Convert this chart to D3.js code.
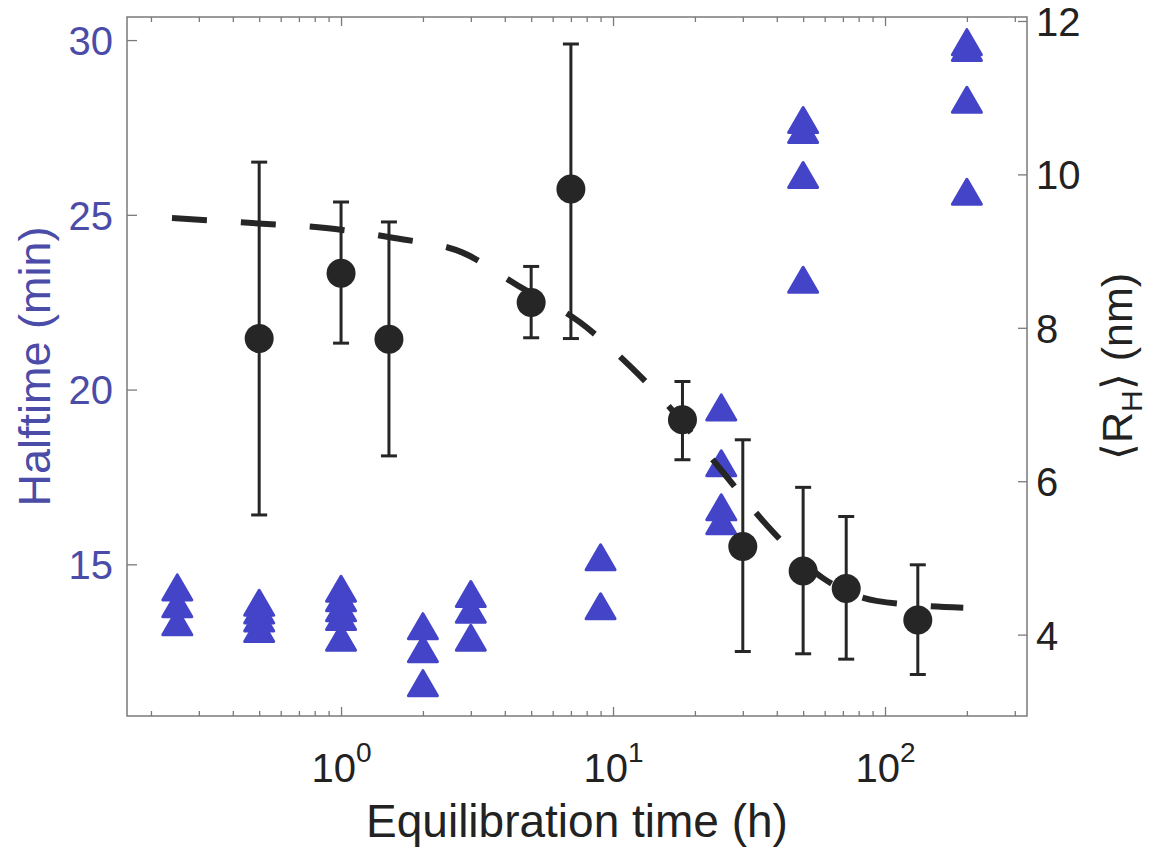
<!DOCTYPE html>
<html><head><meta charset="utf-8">
<script src="https://cdn.jsdelivr.net/npm/d3@7"></script>
<style>body{margin:0;background:#fff} text{font-family:"Liberation Sans",Arial,Helvetica,sans-serif}</style>
</head><body>
<svg id="c" width="1164" height="850"></svg>
<script>
// ---- data ----
const halftimeTimes  = [0.25,0.25,0.25, 0.5,0.5,0.5,0.5, 1,1,1,1,1, 2,2,2, 3,3,3, 9,9, 25,25,25,25, 50,50,50,50, 200,200,200,200];
const halftimeValues = [14.34,13.86,13.34, 13.9,13.68,13.45,13.15, 14.3,14.03,13.74,13.49,12.9, 13.23,12.57,11.6, 14.15,13.7,12.9, 15.2,13.8, 19.49,17.89,16.63,16.23, 27.71,27.43,26.14,23.14, 29.94,29.77,28.29,25.66];

const rhTimes = [0.5, 1, 1.5, 5, 7, 18, 30, 50, 72, 132];
const rhMean  = [7.86, 8.71, 7.85, 8.33, 9.81, 6.80, 5.15, 4.83, 4.60, 4.19];
const rhLower = [5.56, 7.80, 6.33, 7.87, 7.86, 6.28, 3.78, 3.75, 3.68, 3.48];
const rhUpper = [10.16, 9.64, 9.38, 8.80, 11.70, 7.30, 6.54, 5.92, 5.54, 4.91];

const fitTimes  = [0.239, 0.496, 0.88, 1.57, 2.8, 4.47, 7.57, 11.7, 15.9, 25.2, 36.7, 59.5, 93, 194];
const fitValues = [9.43, 9.36, 9.30, 9.17, 8.98, 8.55, 8.07, 7.48, 6.99, 6.13, 5.43, 4.73, 4.44, 4.35];

const leftTicks = [15, 20, 25, 30];
const rightTicks = [4, 6, 8, 10, 12];
const xMajorTicks = [1, 10, 100];
const xMajorLabels = ["0", "1", "2"];
const xMinorTicks = [0.2,0.3,0.4,0.5,0.6,0.7,0.8,0.9, 2,3,4,5,6,7,8,9, 20,30,40,50,60,70,80,90, 200,300];

// ---- layout ----
const W = 1164, H = 850;
const m = {l:127, r:1027, t:17, b:716};
const blue = "#4444c9", blueText = "#4b4ba8", dark = "#262626", axisGray = "#7a7a7a";

const svg = d3.select("#c");
const x = d3.scaleLog().domain([0.1633, 332.7]).range([m.l, m.r]);
const yL = d3.scaleLinear().domain([10.66, 30.66]).range([m.b, m.t]);
const yR = d3.scaleLinear().domain([2.939, 12.052]).range([m.b, m.t]);

// triangles (left axis)
const triHalfW = 14.5, triH = 25;
const tri = `M0,${-triH/2}L${triHalfW},${triH/2}L${-triHalfW},${triH/2}Z`;
svg.append("g").selectAll("path").data(halftimeTimes.map((t,i)=>[t, halftimeValues[i]]))
  .join("path").attr("d", tri)
  .attr("transform", d => `translate(${x(d[0])},${yL(d[1])})`)
  .attr("fill", blue).attr("stroke", blue).attr("stroke-width", 3).attr("stroke-linejoin", "round");

// error bars (right axis)
const eb = svg.append("g").attr("stroke", dark).attr("stroke-width", 3).attr("fill", "none");
rhTimes.forEach((t,i) => {
  const cx = x(t);
  eb.append("line").attr("x1", cx).attr("x2", cx).attr("y1", yR(rhLower[i])).attr("y2", yR(rhUpper[i]));
  eb.append("line").attr("x1", cx-8).attr("x2", cx+8).attr("y1", yR(rhLower[i])).attr("y2", yR(rhLower[i]));
  eb.append("line").attr("x1", cx-8).attr("x2", cx+8).attr("y1", yR(rhUpper[i])).attr("y2", yR(rhUpper[i]));
});
svg.append("g").selectAll("circle").data(rhTimes.map((t,i)=>[t, rhMean[i]]))
  .join("circle").attr("cx", d=>x(d[0])).attr("cy", d=>yR(d[1])).attr("r", 14.5).attr("fill", dark);

// dashed fit line
const line = d3.line().x(d=>x(d[0])).y(d=>yR(d[1])).curve(d3.curveMonotoneX);
svg.append("path").datum(fitTimes.map((t,i)=>[t, fitValues[i]]))
  .attr("d", line).attr("fill","none").attr("stroke", dark).attr("stroke-width", 6)
  .attr("stroke-dasharray", "35,34");

// box
svg.append("rect").attr("x", m.l).attr("y", m.t).attr("width", m.r-m.l).attr("height", m.b-m.t)
  .attr("fill","none").attr("stroke", axisGray).attr("stroke-width", 1.5);

function styleAxis(g){
  g.select(".domain").remove();
  g.selectAll(".tick line").attr("stroke", axisGray).attr("stroke-width", 1.3);
}
// x ticks bottom and top
svg.append("g").attr("transform", `translate(0,${m.b})`)
  .call(d3.axisBottom(x).tickValues(xMinorTicks).tickSizeInner(-5).tickSizeOuter(0).tickFormat(""))
  .call(styleAxis);
svg.append("g").attr("transform", `translate(0,${m.t})`)
  .call(d3.axisTop(x).tickValues(xMinorTicks).tickSizeInner(-5).tickSizeOuter(0).tickFormat(""))
  .call(styleAxis);
svg.append("g").attr("transform", `translate(0,${m.t})`)
  .call(d3.axisTop(x).tickValues(xMajorTicks).tickSizeInner(-9).tickSizeOuter(0).tickFormat(""))
  .call(styleAxis);
const xb = svg.append("g").attr("transform", `translate(0,${m.b})`)
  .call(d3.axisBottom(x).tickValues(xMajorTicks).tickSizeInner(-9).tickSizeOuter(0).tickPadding(0).tickFormat(""))
  .call(styleAxis);
xb.selectAll(".tick").each(function(d,i){
  const t = d3.select(this).append("text").attr("y", 66).attr("text-anchor","middle")
    .attr("fill", "#222").attr("font-size", 40);
  t.append("tspan").text("10");
  t.append("tspan").attr("font-size", 28).attr("dy", -20).text(xMajorLabels[i]);
});
svg.selectAll("g.tick text").filter(function(){return this.textContent==="";}).remove();

// left axis
svg.append("g").attr("transform", `translate(${m.l},0)`)
  .call(d3.axisLeft(yL).tickValues(leftTicks).tickSizeInner(-10).tickSizeOuter(0).tickPadding(14))
  .call(styleAxis)
  .call(g => g.selectAll("text").attr("fill", blueText).attr("font-size", 40)
    .attr("font-family", '"Liberation Sans",Arial,sans-serif').attr("dy","0.36em"));
// right axis
svg.append("g").attr("transform", `translate(${m.r},0)`)
  .call(d3.axisRight(yR).tickValues(rightTicks).tickSizeInner(-9).tickSizeOuter(0).tickPadding(9))
  .call(styleAxis)
  .call(g => g.selectAll("text").attr("fill", "#222").attr("font-size", 40)
    .attr("font-family", '"Liberation Sans",Arial,sans-serif').attr("dy","0.36em"));

// titles
svg.append("text").attr("x", (m.l+m.r)/2).attr("y", 837).attr("text-anchor","middle")
  .attr("font-size", 46).attr("fill", "#222").text("Equilibration time (h)");
svg.append("text").attr("transform", `translate(50,${(m.t+m.b)/2}) rotate(-90)`).attr("text-anchor","middle")
  .attr("font-size", 45).attr("fill", blueText).text("Halftime (min)");
const rt = svg.append("text").attr("transform", `translate(1132,${(m.t+m.b)/2}) rotate(-90)`).attr("text-anchor","middle")
  .attr("font-size", 43).attr("fill", "#222");
rt.append("tspan").text("\u27E8R");
rt.append("tspan").attr("font-size", 30).attr("dy", 10).text("H");
rt.append("tspan").attr("dy", -10).text("\u27E9 (nm)");
</script>
</body></html>
